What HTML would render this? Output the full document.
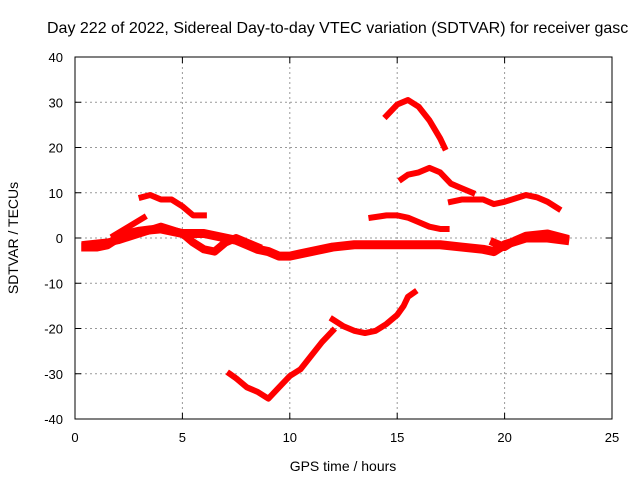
<!DOCTYPE html>
<html><head><meta charset="utf-8"><style>
body{margin:0;background:#fff;overflow:hidden;}
svg{display:block;font-family:"Liberation Sans",sans-serif;}
</style></head><body>
<svg id="chart" width="640" height="480">
<text x="47" y="33" font-size="16">Day 222 of 2022, Sidereal Day-to-day VTEC variation (SDTVAR) for receiver gasc</text>
<text x="343" y="471" font-size="14" text-anchor="middle">GPS time / hours</text>
<text transform="translate(18,238) rotate(-90)" font-size="14" text-anchor="middle">SDTVAR / TECUs</text>
<g id="grid"></g><g id="series"></g><g id="axes"></g>
</svg>
<script>
const xTicks=[0,5,10,15,20,25];
const yTicks=[-40,-30,-20,-10,0,10,20,30,40];
const seriesBandA=[[0.5,-2],[1,-2],[1.5,-1.5],[2,0],[2.5,1],[3,1.5],[3.5,1.8],[4,2],[4.5,1.5],[5,1],[5.5,1],[6,1],[6.5,0.5],[7,0],[7.5,-0.5],[8,-1.5],[8.5,-2.5],[9,-3],[9.5,-4],[10,-4],[10.5,-3.5],[11,-3],[11.5,-2.5],[12,-2],[13,-1.5],[14,-1.5],[15,-1.5],[16,-1.5],[17,-1.5],[18,-2],[19,-2.5],[19.5,-3],[20,-1.5],[21,0],[22,0],[22.8,-0.5]];
const seriesBandB=[[0.5,-1.5],[1.5,-1],[2,-0.5],[3,1],[4,2.5],[5,1],[5.5,-1],[6,-2.5],[6.5,-3],[7,-1],[7.5,0],[8,-1],[8.5,-2]];
const seriesBandC=[[19.5,-1],[20,-2],[20.5,-0.5],[21,0.5],[22,1],[22.8,0]];
const seriesSpur=[[1.8,0.5],[2.5,2.5],[3.2,4.5]];
const seriesUpperLeft=[[3.1,9],[3.5,9.5],[4,8.5],[4.5,8.5],[5,7],[5.5,5],[6,5]];
const seriesPeak=[[14.5,27],[15,29.5],[15.5,30.5],[16,29],[16.5,26],[17,22],[17.2,20]];
const seriesMid=[[15.2,13],[15.5,14],[16,14.5],[16.5,15.5],[17,14.5],[17.5,12],[18,11],[18.5,10]];
const seriesRight=[[17.5,8],[18,8.5],[19,8.5],[19.5,7.5],[20,8],[21,9.5],[21.5,9],[22,8],[22.5,6.5]];
const seriesLow=[[13.8,4.5],[14.5,5],[15,5],[15.5,4.5],[16,3.5],[16.5,2.5],[17,2],[17.3,2]];
const seriesTrough=[[7.2,-30],[7.5,-31],[8,-33],[8.5,-34],[9,-35.5],[9.5,-33],[10,-30.5],[10.5,-29],[11,-26],[11.5,-23],[12,-20.5]];
const seriesRecovery=[[12,-18],[12.5,-19.5],[13,-20.5],[13.5,-21],[14,-20.5],[14.5,-19],[15,-17],[15.3,-15],[15.5,-13],[15.8,-12]];
const allSeries=[seriesBandA,seriesBandB,seriesBandC,seriesSpur,seriesUpperLeft,seriesPeak,seriesMid,seriesRight,seriesLow,seriesTrough,seriesRecovery];
const widths=[9,8,8,6,6,6,6,6,6,6,6];
const X0=75,X1=612,Y0=419,Y1=57;
const sx=v=>X0+(v-0)/25*(X1-X0);
const sy=v=>Y0-(v+40)/80*(Y0-Y1);
const NS="http://www.w3.org/2000/svg";
function mk(t,a,p){const e=document.createElementNS(NS,t);for(const k in a)e.setAttribute(k,a[k]);p.appendChild(e);return e;}
const grid=document.getElementById('grid'),axes=document.getElementById('axes'),ser=document.getElementById('series');
xTicks.forEach(t=>{
 if(t>0&&t<25){const g=mk('line',{x1:sx(t),x2:sx(t),y1:Y1,y2:Y0,stroke:'#999','stroke-dasharray':'2,3'},grid);
 
 }
 const l=mk('text',{x:sx(t),y:Y0+23,'font-size':13,'text-anchor':'middle'},axes);l.textContent=t;
 
 
 mk('line',{x1:sx(t),x2:sx(t),y1:Y0,y2:Y0-6,stroke:'#000'},axes);
 mk('line',{x1:sx(t),x2:sx(t),y1:Y1,y2:Y1+6,stroke:'#000'},axes);
});
yTicks.forEach(t=>{
 if(t>-40&&t<40){const g=mk('line',{x1:X0,x2:X1,y1:sy(t),y2:sy(t),stroke:'#999','stroke-dasharray':'2,3'},grid);
 
 }
 const l=mk('text',{x:X0-12,y:sy(t)+5,'font-size':13,'text-anchor':'end'},axes);l.textContent=t;
 
 
 mk('line',{x1:X0,x2:X0+6,y1:sy(t),y2:sy(t),stroke:'#000'},axes);
 mk('line',{x1:X1,x2:X1-6,y1:sy(t),y2:sy(t),stroke:'#000'},axes);
});
const fr=mk('rect',{x:X0,y:Y1,width:X1-X0,height:Y0-Y1,fill:'none',stroke:'#000'},axes);


allSeries.forEach((s,i)=>{
 const p=mk('polyline',{points:s.map(d=>sx(d[0])+','+sy(d[1])).join(' '),fill:'none',stroke:'#f00','stroke-width':widths[i],'stroke-linejoin':'round','stroke-linecap':'square'},ser);
 
 
});
</script>
</body></html>
